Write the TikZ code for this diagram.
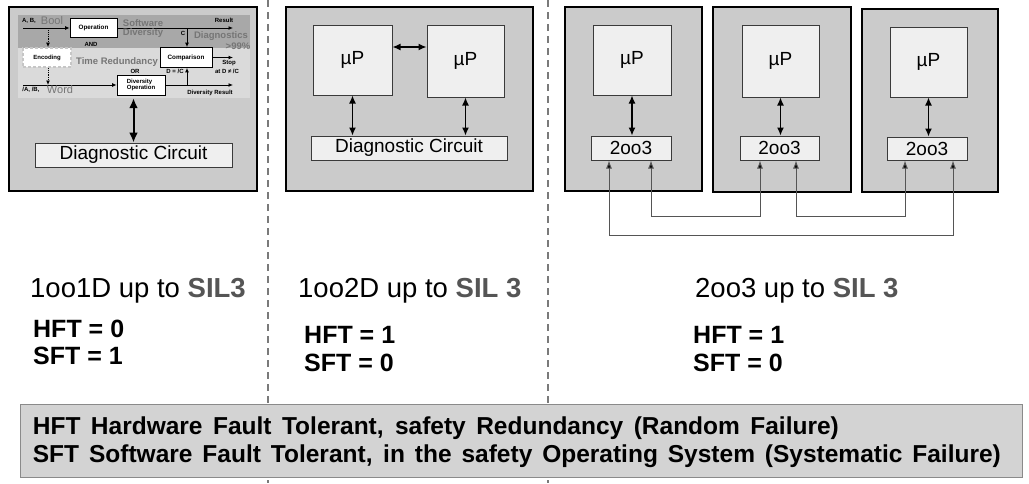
\documentclass[tikz,border=0pt]{standalone}
\usepackage{fontspec}
\setmainfont{Liberation Sans}
\usetikzlibrary{arrows.meta}
\definecolor{panelgray}{HTML}{CBCBCB}
\definecolor{chipfill}{HTML}{EFEFEF}
\definecolor{chipline}{HTML}{3A3A3A}
\definecolor{sepgray}{HTML}{7A7A7A}
\definecolor{notefill}{HTML}{D3D3D3}
\definecolor{noteline}{HTML}{8A8A8A}
\definecolor{silgray}{HTML}{555555}
\definecolor{darkband}{HTML}{A8A8A8}
\definecolor{lightband}{HTML}{DADADA}
\definecolor{faint}{HTML}{767676}
\definecolor{busgray}{HTML}{555555}
\newcommand{\myfs}[1]{\fontsize{#1}{#1}\selectfont}
\begin{document}
\begin{tikzpicture}[x=1pt,y=-1pt,
  panel/.style={draw=black,line width=2pt,fill=panelgray,inner sep=0pt},
  chip/.style={draw=chipline,line width=1pt,fill=chipfill,inner sep=0pt,font=\myfs{19}},
  dbl/.style={{Latex[length=8pt,width=7pt]}-{Latex[length=8pt,width=7pt]},line width=1.3pt,black},
  bigdbl/.style={{Latex[length=10pt,width=9pt]}-{Latex[length=10pt,width=9pt]},line width=2pt,black},
  bus/.style={{Latex[length=8pt,width=6pt,fill=black]}-{Latex[length=8pt,width=6pt,fill=black]},line width=1pt,busgray},
  sm/.style={-{Latex[length=4.5pt,width=4pt]},line width=0.9pt,black},
  smdot/.style={-{Latex[length=4.5pt,width=4pt]},line width=0.9pt,black,densely dotted},
  smbox/.style={draw=black,line width=0.8pt,fill=white,inner sep=0pt,font=\bfseries\myfs{6.3}},
  tiny/.style={inner sep=0pt,font=\bfseries\myfs{6}},
  ghost/.style={inner sep=0pt,text=faint,font=\bfseries\myfs{9.5}},
  ghostr/.style={inner sep=0pt,text=faint,font=\myfs{11}},
  title/.style={inner sep=0pt,anchor=base west,font=\myfs{27.5}},
  ft/.style={inner sep=0pt,anchor=base west,font=\bfseries\myfs{25}},
  sep/.style={draw=sepgray,line width=1.3pt,dash pattern=on 7pt off 5pt},
  note/.style={draw=noteline,line width=1pt,fill=notefill,inner sep=0pt},
  notetext/.style={inner sep=0pt,anchor=base west,font=\bfseries\myfs{24.5}}
]
\useasboundingbox (0,0) rectangle (1029,483);
\fill[white] (0,0) rectangle (1029,483);

% separators
\draw[sep] (268,0) -- (268,483);
\draw[sep] (548,0) -- (548,483);

% ---------- panel 1 : 1oo1D ----------
\node[panel,minimum width=248pt,minimum height=184pt] (pan1) at (133,99) {};
\fill[darkband] (18,15) rectangle (250,48);
\fill[lightband] (18,48) rectangle (250,98);
\node[inner sep=0pt,minimum width=232pt,minimum height=83pt] (flow) at (134,56.5) {};

\node[smbox,minimum width=47pt,minimum height=19pt] (op) at (93.5,28) {Operation};
\node[smbox,minimum width=52pt,minimum height=20pt] (cmp) at (186,57.5) {Comparison};
\node[smbox,draw=gray!45,line width=1.6pt,densely dashed,minimum width=48pt,minimum height=19pt,font=\bfseries\myfs{6}] (enc) at (47,57.5) {Encoding};
\node[smbox,minimum width=48pt,minimum height=20pt,align=left,font=\bfseries\myfs{6}] (dop) at (141,85) {Diversity\\[-0.5pt]Operation};

\coordinate (boolIn) at (23,28);
\coordinate (resOut) at (233,28);
\coordinate (cTap) at (187,28);
\coordinate (stopOut) at (233,57.5);
\coordinate (encTap) at (48,28);
\coordinate (wordIn) at (23,85);
\coordinate (wordTap) at (48,85);
\coordinate (divOut) at (233,85);
\coordinate (dTap) at (187,85);

\draw[sm] (boolIn) -- (op.west);
\draw[sm] (op.east) -- (resOut);
\draw[sm] (cTap) -- (cTap |- cmp.north);
\draw[sm] (cmp.east) -- (stopOut);
\draw[smdot] (encTap) -- (encTap |- enc.north);
\draw[smdot] (encTap |- enc.south) -- (wordTap);
\draw[sm] (wordIn) -- (dop.west);
\draw[sm] (dop.east) -- (divOut);
\draw[sm] (dTap) -- (dTap |- cmp.south);

\node[tiny] (lab1) at (29,21) {A, B,};
\node[ghostr] (lab2) at (52,21) {Bool};
\node[tiny] (lab3) at (224,20) {Result};
\node[tiny] (lab4) at (91,44) {AND};
\node[ghost] (lab5) at (143,23) {Software};
\node[ghost] (lab6) at (143,33) {Diversity};
\node[tiny] (lab7) at (183,33) {C};
\node[ghost] (lab8) at (221,36) {Diagnostics};
\node[ghost] (lab9) at (238,46) {>99\%};
\node[ghost] (lab10) at (117,62) {Time Redundancy};
\node[tiny] (lab11) at (135,71) {OR};
\node[tiny] (lab12) at (175,71) {D = /C};
\node[tiny] (lab13) at (229,63) {Stop};
\node[tiny] (lab14) at (227,71) {at D ≠ /C};
\node[tiny] (lab15) at (31,90) {/A, /B,};
\node[ghostr] (lab16) at (60,90) {Word};
\node[tiny] (lab17) at (210,93) {Diversity Result};

\node[chip,minimum width=197pt,minimum height=24pt] (diag1) at (133.5,155) {Diagnostic Circuit};
\draw[bigdbl] (flow.south -| diag1.north) -- (diag1.north);

% ---------- panel 2 : 1oo2D ----------
\node[panel,minimum width=247pt,minimum height=184pt] (pan2) at (409.5,99) {};
\node[chip,minimum width=79pt,minimum height=70pt] (pL) at (352.5,60) {µP};
\node[chip,minimum width=77pt,minimum height=72pt] (pR) at (465.5,61) {µP};
\node[chip,minimum width=196pt,minimum height=24pt] (diag2) at (409,148) {Diagnostic Circuit};
\draw[dbl] ([yshift=13pt]pL.east) -- ([yshift=13pt]pL.east -| pR.west);
\draw[dbl] (pL.south) -- (pL.south |- diag2.north);
\draw[dbl] (pR.south) -- (pR.south |- diag2.north);

% ---------- panel 3 : 2oo3 ----------
\node[panel,minimum width=137pt,minimum height=184pt] (panA) at (633.5,99) {};
\node[panel,minimum width=138pt,minimum height=185pt] (panB) at (782,99.5) {};
\node[panel,minimum width=136pt,minimum height=183pt] (panC) at (930,100.5) {};

\node[chip,minimum width=78pt,minimum height=70pt] (mA) at (632,60) {µP};
\node[chip,minimum width=77pt,minimum height=72pt] (mB) at (780.5,61) {µP};
\node[chip,minimum width=77pt,minimum height=70pt] (mC) at (928.5,62) {µP};
\node[chip,minimum width=80pt,minimum height=24pt] (tA) at (631,148) {2oo3};
\node[chip,minimum width=79pt,minimum height=24pt] (tB) at (779.5,148) {2oo3};
\node[chip,minimum width=80pt,minimum height=23pt] (tC) at (927,148.5) {2oo3};

\draw[dbl] (mA.south) -- (mA.south |- tA.north);
\draw[dbl] (mB.south) -- (mB.south |- tB.north);
\draw[dbl] (mC.south) -- (mC.south |- tC.north);

\coordinate (busin) at (0,216);
\coordinate (busout) at (0,235);
\coordinate (pA1) at ([xshift=-22pt]tA.south);
\coordinate (pA2) at ([xshift=20pt]tA.south);
\coordinate (pB1) at ([xshift=-19.5pt]tB.south);
\coordinate (pB2) at ([xshift=16.5pt]tB.south);
\coordinate (pC1) at ([xshift=-22pt]tC.south);
\coordinate (pC2) at ([xshift=26pt]tC.south);

\draw[bus] (pA2) -- (pA2 |- busin) -- (pB1 |- busin) -- (pB1);
\draw[bus] (pB2) -- (pB2 |- busin) -- (pC1 |- busin) -- (pC1);
\draw[bus] (pA1) -- (pA1 |- busout) -- (pC2 |- busout) -- (pC2);

% ---------- captions ----------
\node[title] (cap1) at (30,297) {1oo1D up to \textcolor{silgray}{\bfseries SIL3}};
\node[title] (cap2) at (298,297) {1oo2D up to \textcolor{silgray}{\bfseries SIL 3}};
\node[title] (cap3) at (695,297) {2oo3 up to \textcolor{silgray}{\bfseries SIL 3}};

\node[ft] (h1) at (33,337) {HFT = 0};
\node[ft] (s1) at (33,364) {SFT = 1};
\node[ft] (h2) at (304,343) {HFT = 1};
\node[ft] (s2) at (304,371) {SFT = 0};
\node[ft] (h3) at (693,343) {HFT = 1};
\node[ft] (s3) at (693,371) {SFT = 0};

% ---------- legend ----------
\node[note,minimum width=1002pt,minimum height=73pt] (notes) at (521,440.5) {};
\node[notetext] (n1) at (32.7,434) {\makebox[806pt][s]{HFT Hardware Fault Tolerant, safety Redundancy (Random Failure)}};
\node[notetext] (n2) at (32.7,462.7) {\makebox[968pt][s]{SFT Software Fault Tolerant, in the safety Operating System (Systematic Failure)}};
\end{tikzpicture}
\end{document}
